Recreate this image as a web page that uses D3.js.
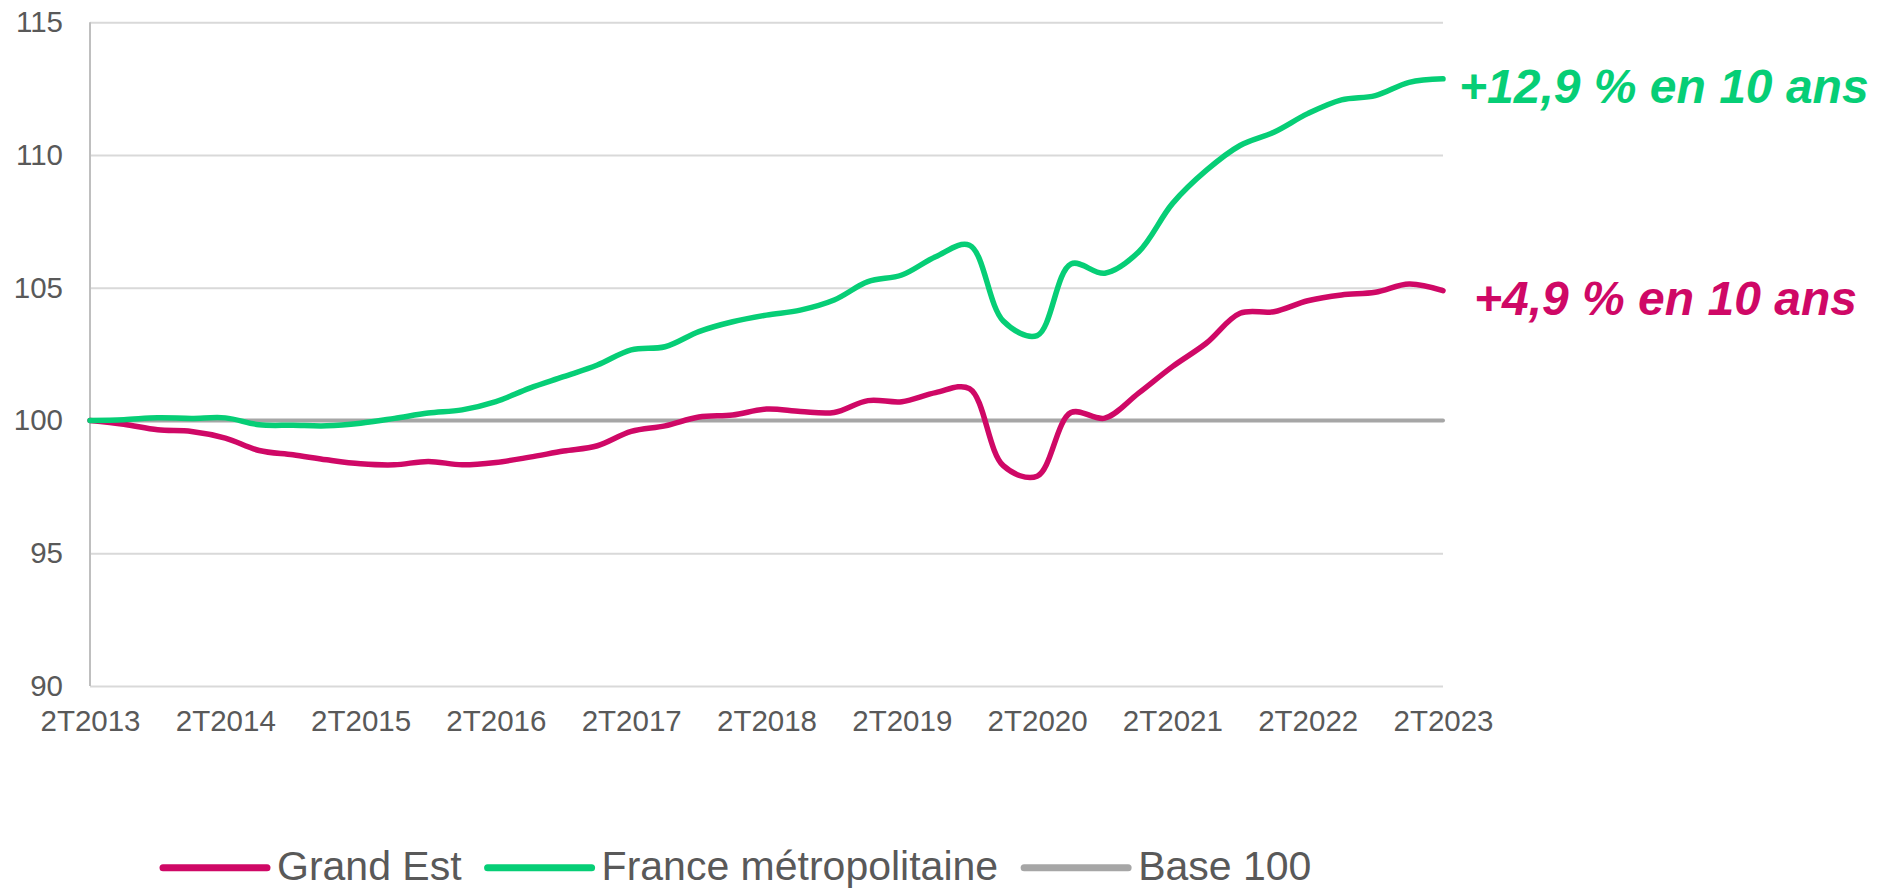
<!DOCTYPE html>
<html>
<head>
<meta charset="utf-8">
<script src="https://cdn.jsdelivr.net/npm/d3@7"></script>
<style>
    body { margin: 0; background: #fff; }
    svg { display: block; font-family: "Liberation Sans", Arial, sans-serif; }
</style>
</head>
<body>
<svg id="chart" width="1882" height="888"></svg>
<script>
// trimestres de 2T2013 a 2T2023
var trimestres = ['2T2013', '3T2013', '4T2013', '1T2014', '2T2014', '3T2014', '4T2014', '1T2015',
    '2T2015', '3T2015', '4T2015', '1T2016', '2T2016', '3T2016', '4T2016', '1T2017',
    '2T2017', '3T2017', '4T2017', '1T2018', '2T2018', '3T2018', '4T2018', '1T2019',
    '2T2019', '3T2019', '4T2019', '1T2020', '2T2020', '3T2020', '4T2020', '1T2021',
    '2T2021', '3T2021', '4T2021', '1T2022', '2T2022', '3T2022', '4T2022', '1T2023', '2T2023'];

var etiquettesX = ['2T2013', '2T2014', '2T2015', '2T2016', '2T2017', '2T2018',
    '2T2019', '2T2020', '2T2021', '2T2022', '2T2023'];
var etiquettesY = [90, 95, 100, 105, 110, 115];

var grandEst = [100, 99.86, 99.65, 99.59, 99.34, 98.87, 98.71, 98.52, 98.37, 98.33,
    98.46, 98.33, 98.42, 98.62, 98.85, 99.05, 99.59, 99.8, 100.13, 100.21,
    100.43, 100.34, 100.3, 100.75, 100.71, 101.05, 101.2, 98.3, 97.9, 100.3,
    100.09, 101.03, 102.03, 102.91, 104.04, 104.1, 104.51, 104.73, 104.83, 105.14, 104.89];

var franceMetro = [100, 100.03, 100.1, 100.08, 100.1, 99.84, 99.82, 99.8, 99.9, 100.08,
    100.28, 100.4, 100.71, 101.22, 101.65, 102.09, 102.66, 102.78, 103.35, 103.72,
    103.97, 104.16, 104.54, 105.23, 105.48, 106.17, 106.6, 103.75, 103.2, 105.9,
    105.55, 106.35, 108.17, 109.42, 110.36, 110.86, 111.56, 112.08, 112.24, 112.74, 112.87];

var base100 = [100, 100, 100, 100, 100, 100, 100, 100, 100, 100,
    100, 100, 100, 100, 100, 100, 100, 100, 100, 100,
    100, 100, 100, 100, 100, 100, 100, 100, 100, 100,
    100, 100, 100, 100, 100, 100, 100, 100, 100, 100, 100];

var series = [
    {nom: 'Grand Est', valeurs: grandEst, couleur: '#CF0866', epaisseur: 5.5, lisse: true},
    {nom: 'France métropolitaine', valeurs: franceMetro, couleur: '#06CE76', epaisseur: 5.5, lisse: true},
    {nom: 'Base 100', valeurs: base100, couleur: '#A6A6A6', epaisseur: 4, lisse: false}
];

var annotations = [
    {texte: '+12,9 % en 10 ans', serie: 1, dx: 16},
    {texte: '+4,9 % en 10 ans', serie: 0, dx: 31}
];

var svg = d3.select('#chart');
var gauche = 90, droite = 1443, haut = 22.3, bas = 686;

var x = d3.scalePoint().domain(trimestres).range([gauche, droite]);
var y = d3.scaleLinear().domain([90, 115]).range([bas, haut]);

// grille + axe Y
var axeY = svg.append('g')
    .attr('transform', 'translate(' + gauche + ',0)')
    .call(d3.axisLeft(y).tickValues(etiquettesY).tickSize(-(droite - gauche)).tickPadding(27));
axeY.select('.domain').remove();
axeY.selectAll('line').attr('stroke', '#D9D9D9').attr('stroke-width', 2);
axeY.selectAll('text')
    .attr('fill', '#595959')
    .style('font-size', '29.5px');

svg.append('line')
    .attr('x1', gauche).attr('x2', gauche)
    .attr('y1', y(115)).attr('y2', y(90))
    .attr('stroke', '#BFBFBF')
    .attr('stroke-width', 2);

// axe X
var axeX = svg.append('g')
    .attr('transform', 'translate(0,' + bas + ')')
    .call(d3.axisBottom(x).tickValues(etiquettesX).tickSize(0).tickPadding(24));
axeX.select('.domain').remove();
axeX.selectAll('text')
    .attr('fill', '#595959')
    .style('font-size', '29.5px');

// courbes (base 100 en dessous)
var ordre = [2, 0, 1];
ordre.forEach(function(k) {
    var s = series[k];
    var ligne = d3.line()
        .x(function(d, i) { return x(trimestres[i]); })
        .y(function(d) { return y(d); })
        .curve(s.lisse ? d3.curveCatmullRom : d3.curveLinear);
    svg.append('path')
        .datum(s.valeurs)
        .attr('d', ligne)
        .attr('fill', 'none')
        .attr('stroke', s.couleur)
        .attr('stroke-width', s.epaisseur)
        .attr('stroke-linecap', 'round')
        .attr('stroke-linejoin', 'round');
});

// annotations en fin de courbe
annotations.forEach(function(a) {
    var s = series[a.serie];
    var dernier = s.valeurs[s.valeurs.length - 1];
    svg.append('text')
        .attr('x', droite + a.dx)
        .attr('y', y(dernier) + 24)
        .attr('fill', s.couleur)
        .style('font-size', '48px')
        .style('font-weight', 'bold')
        .style('font-style', 'italic')
        .text(a.texte);
});

// legende
var lx = 163, ly = 867.7;
series.forEach(function(s) {
    svg.append('line')
        .attr('x1', lx).attr('x2', lx + 104)
        .attr('y1', ly).attr('y2', ly)
        .attr('stroke', s.couleur)
        .attr('stroke-width', 7)
        .attr('stroke-linecap', 'round');
    var t = svg.append('text')
        .attr('x', lx + 114)
        .attr('y', 880)
        .attr('fill', '#595959')
        .style('font-size', '41px')
        .text(s.nom);
    lx = lx + 114 + t.node().getComputedTextLength() + 26;
});
</script>
</body>
</html>
